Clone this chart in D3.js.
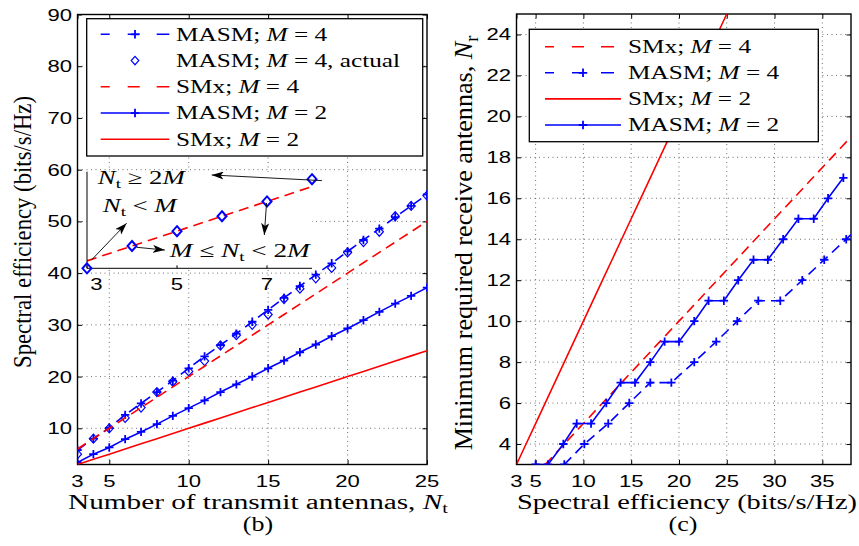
<!DOCTYPE html>
<html>
<head>
<meta charset="utf-8">
<script src="https://cdn.jsdelivr.net/npm/d3@7/dist/d3.min.js"></script>
<style>body{margin:0;background:#fff}</style>
</head>
<body>
<svg></svg>
<script>
const W = 859, H = 546;

// number of transmit antennas
const nt = [3,4,5,6,7,8,9,10,11,12,13,14,15,16,17,18,19,20,21,22,23,24,25];
// panel (b): spectral efficiency (bits/s/Hz) per Nt
const rateMasm4 = [5.8,8.0,10.1,12.6,14.8,17.0,19.2,21.6,23.9,26.1,28.3,30.6,32.9,35.2,37.5,39.7,41.9,44.2,46.4,48.6,50.8,53.0,55.2];
const rateMasm4Actual = [5,8,10,12,14,17,19,21,23,26,28,30,32,35,37,39,41,44,46,48,51,53,55];
const rateSmx4 = [6,8,10,12,14,16,18,20,22,24,26,28,30,32,34,36,38,40,42,44,46,48,50];
const rateMasm2 = [3.4,5.0,6.3,7.9,9.3,10.8,12.4,13.9,15.4,17.0,18.5,20.0,21.6,23.1,24.7,26.2,27.8,29.3,30.9,32.5,34.1,35.6,37.2];
const rateSmx2 = [3,4,5,6,7,8,9,10,11,12,13,14,15,16,17,18,19,20,21,22,23,24,25];
// panel (c): minimum receive antennas
const nrMasm4 = [3,4,5,6,7,7,8,9,10,11,11,12,13,14,15];          // Nt = 4..18
const nrMasm2 = [3,3,4,5,5,6,7,7,8,9,9,10,11,11,12,13,13,14,15,15,16,17]; // Nt = 4..25

const xTicksB = [3,5,10,15,20,25], yTicksB = [10,20,30,40,50,60,70,80,90];
const xTicksC = [3,5,10,15,20,25,30,35], yTicksC = [4,6,8,10,12,14,16,18,20,22,24];
const insetTicks = [3,5,7];

const serif = "'Liberation Serif','Times New Roman',serif";
const sans = "'Liberation Sans',Arial,sans-serif";
const blue = "#0000ff", red = "#ff0000";
const DASH = "10,6";

const svg = d3.select("svg").attr("width", W).attr("height", H);
const defs = svg.append("defs");
defs.append("marker").attr("id", "ah")
  .attr("viewBox", "0 0 12 8").attr("refX", 12).attr("refY", 4)
  .attr("markerWidth", 12).attr("markerHeight", 8)
  .attr("markerUnits", "userSpaceOnUse").attr("orient", "auto")
  .append("path").attr("d", "M0,0L12,4L0,8L3,4Z").attr("fill", "#000");

// text with optional italic / subscript parts, stretched horizontally
function stext(g, x, y, parts, o = {}) {
  const size = o.size || 19;
  const t = g.append("text")
    .attr("font-family", o.font || serif)
    .attr("font-size", size)
    .attr("text-anchor", o.anchor || "start");
  let shift = 0;
  parts.forEach(p => {
    const [s, k] = Array.isArray(p) ? p : [p, ""];
    const ts = t.append("tspan").text(s);
    const want = k === "sub" ? size * 0.22 : 0;
    if (want !== shift) { ts.attr("dy", want - shift); shift = want; }
    if (k === "i") ts.attr("font-style", "italic");
    if (k === "sub") ts.attr("font-size", size * 0.7);
  });
  let k = o.sx || 1;
  if (o.len) k = o.len / t.node().getComputedTextLength();
  if (o.rot) t.attr("transform", `translate(${x},${y}) scale(${o.perp || 1},1) rotate(-90) scale(${k},1)`);
  else t.attr("transform", `translate(${x},${y}) scale(${k},1)`);
  return t;
}

const plusPath = "M-4.2,0H4.2M0,-4.2V4.2";
const diamond = r => `M0,${-r}L${r * 0.9},0L0,${r}L${-r * 0.9},0Z`;

function frame(id, x, y, xt, yt) {
  const [x0, x1] = x.range(), [y0, y1] = y.range();
  const g = svg.append("g");
  defs.append("clipPath").attr("id", id).append("rect")
    .attr("x", x0).attr("y", y1).attr("width", x1 - x0).attr("height", y0 - y1);
  const grid = g.append("g").attr("stroke", "#333").attr("stroke-width", 0.7)
    .attr("stroke-dasharray", "1,3.5");
  grid.selectAll(".gx").data(xt.filter(v => x(v) > x0 + 1 && x(v) < x1 - 1)).join("line")
    .attr("x1", d => x(d)).attr("x2", d => x(d)).attr("y1", y0).attr("y2", y1);
  grid.selectAll(".gy").data(yt.filter(v => y(v) < y0 - 1 && y(v) > y1 + 1)).join("line")
    .attr("y1", d => y(d)).attr("y2", d => y(d)).attr("x1", x0).attr("x2", x1);
  const ax = [
    [d3.axisBottom(x).tickValues(xt), `translate(0,${y0})`],
    [d3.axisTop(x).tickValues(xt), `translate(0,${y1})`],
    [d3.axisLeft(y).tickValues(yt), `translate(${x0},0)`],
    [d3.axisRight(y).tickValues(yt), `translate(${x1},0)`]
  ];
  ax.forEach(([a, tr]) => {
    const s = g.append("g").attr("transform", tr)
      .call(a.tickSize(-4.5).tickSizeOuter(0).tickFormat(""));
    s.select(".domain").remove();
    s.selectAll("line").attr("stroke", "#000").attr("stroke-width", 1);
  });
  g.append("rect").attr("x", x0).attr("y", y1).attr("width", x1 - x0).attr("height", y0 - y1)
    .attr("fill", "none").attr("stroke", "#000").attr("stroke-width", 1.4);
  xt.forEach(v => stext(g, x(v), 487, [String(v)], { font: sans, size: 17, sx: 1.3, anchor: "middle" }));
  yt.forEach(v => stext(g, x0 - 5.5, y(v) + 6, [String(v)], { font: sans, size: 17, sx: 1.3, anchor: "end" }));
  return svg.append("g").attr("clip-path", `url(#${id})`);
}

// line: "solid" | "dash" | null ; marker: "+" | "d" | null
function series(g, x, y, xs, ys, color, line, marker) {
  const pts = xs.map((v, i) => [v, ys[i]]);
  if (line) {
    g.append("path").datum(pts)
      .attr("d", d3.line().x(d => x(d[0])).y(d => y(d[1])))
      .attr("fill", "none").attr("stroke", color).attr("stroke-width", 1.6)
      .attr("stroke-dasharray", line === "dash" ? DASH : null);
  }
  if (marker === "+") {
    g.selectAll(null).data(pts).join("path")
      .attr("transform", d => `translate(${x(d[0])},${y(d[1])})`)
      .attr("d", plusPath).attr("stroke", color).attr("stroke-width", 1.8);
  } else if (marker === "d") {
    g.selectAll(null).data(pts).join("path")
      .attr("transform", d => `translate(${x(d[0])},${y(d[1])})`)
      .attr("d", diamond(4.5)).attr("fill", "none").attr("stroke", color).attr("stroke-width", 1.2);
  }
}

function legend(x0, y0, w, h, rows, lx0, lx1, tx, ry0, step) {
  const g = svg.append("g");
  g.append("rect").attr("x", x0).attr("y", y0).attr("width", w).attr("height", h)
    .attr("fill", "#fff").attr("stroke", "#000").attr("stroke-width", 1.3);
  rows.forEach((r, i) => {
    const cy = ry0 + i * step, cx = (lx0 + lx1) / 2;
    if (r.line) {
      g.append("line").attr("x1", lx0).attr("x2", lx1).attr("y1", cy).attr("y2", cy)
        .attr("stroke", r.color).attr("stroke-width", 1.6)
        .attr("stroke-dasharray", r.line === "dash" ? "9,18,12,17,13" : null);
    }
    if (r.marker === "+") g.append("path").attr("transform", `translate(${cx},${cy})`)
      .attr("d", plusPath).attr("stroke", r.color).attr("stroke-width", 1.8);
    if (r.marker === "d") g.append("path").attr("transform", `translate(${cx},${cy})`)
      .attr("d", diamond(4.2)).attr("fill", "none").attr("stroke", r.color).attr("stroke-width", 1.2);
    stext(g, tx, cy + 6.3, r.label, { size: 19, sx: 1.33 });
  });
}

// ---------- panel (b) ----------
const xB = d3.scaleLinear().domain([3, 25]).range([77.5, 427]);
const yB = d3.scaleLinear().domain([3, 90]).range([464.5, 14.5]);
const gB = frame("clipB", xB, yB, xTicksB, yTicksB);
series(gB, xB, yB, nt, rateMasm4, blue, "dash", "+");
series(gB, xB, yB, nt, rateMasm4Actual, blue, null, "d");
series(gB, xB, yB, nt, rateSmx4, red, "dash", null);
series(gB, xB, yB, nt, rateMasm2, blue, "solid", "+");
series(gB, xB, yB, nt, rateSmx2, red, "solid", null);

// inset
const ntIn = nt.slice(0, 6);
const xI = d3.scaleLinear().domain([3, 8]).range([87, 312]);
const yI = d3.scaleLinear().domain([5, 18]).range([268.3, 171.7]);
const gI = svg.append("g");
gI.append("rect").attr("x", xI(3)).attr("y", yI(18)).attr("width", xI(8) - xI(3))
  .attr("height", yI(5) - yI(18)).attr("fill", "#fff");
gI.append("path").datum(ntIn.map((v, i) => [v, rateSmx4[i]]))
  .attr("d", d3.line().x(d => xI(d[0])).y(d => yI(d[1])))
  .attr("fill", "none").attr("stroke", red).attr("stroke-width", 1.6).attr("stroke-dasharray", DASH);
gI.append("path").attr("d", `M${xI(3)},${yI(18)}V${yI(5)}H${xI(8)}`)
  .attr("fill", "none").attr("stroke", "#000").attr("stroke-width", 1);
insetTicks.forEach((v, i) => {
  gI.append("line").attr("x1", xI(v)).attr("x2", xI(v)).attr("y1", yI(5)).attr("y2", yI(5) - 3).attr("stroke", "#000");
  stext(gI, xI(v) + (i === 0 ? 9.5 : 0), 290, [String(v)], { font: sans, size: 17, sx: 1.3, anchor: "middle" });
});
gI.selectAll(null).data(ntIn.map((v, i) => [v, rateMasm4Actual[i]])).join("path")
  .attr("transform", d => `translate(${xI(d[0])},${yI(d[1])})`)
  .attr("d", diamond(5)).attr("fill", "none").attr("stroke", blue).attr("stroke-width", 2);
const arrows = [[8.22, 16.8, 5.77, 17.56], [3.1, 6.12, 3.88, 11.06], [4.1, 7.83, 4.73, 7.46], [6.99, 13.79, 6.94, 9.48]];
arrows.forEach(a => gI.append("line")
  .attr("x1", xI(a[0])).attr("y1", yI(a[1])).attr("x2", xI(a[2])).attr("y2", yI(a[3]))
  .attr("stroke", "#000").attr("stroke-width", 0.9).attr("marker-end", "url(#ah)"));
stext(gI, xI(3.24), yI(16.35), [["N", "i"], ["t", "sub"], " \u2265 2", ["M", "i"]], { size: 19, len: 87 });
stext(gI, xI(3.35), yI(12.62), [["N", "i"], ["t", "sub"], " < ", ["M", "i"]], { size: 19, len: 74 });
stext(gI, xI(4.84), yI(6.56), [["M", "i"], " \u2264 ", ["N", "i"], ["t", "sub"], " < 2", ["M", "i"]], { size: 19, len: 140 });

legend(86.7, 18.7, 336, 137.3, [
  { line: "dash", color: blue, marker: "+", label: ["MASM; ", ["M", "i"], " = 4"] },
  { line: null, color: blue, marker: "d", label: ["MASM; ", ["M", "i"], " = 4, actual"] },
  { line: "dash", color: red, label: ["SMx; ", ["M", "i"], " = 4"] },
  { line: "solid", color: blue, marker: "+", label: ["MASM; ", ["M", "i"], " = 2"] },
  { line: "solid", color: red, label: ["SMx; ", ["M", "i"], " = 2"] }
], 100.7, 169.3, 176, 34.3, 26.25);

stext(svg, 258, 509, ["Number of transmit antennas, ", ["N", "i"], ["t", "sub"]], { size: 20, len: 380, anchor: "middle" });
stext(svg, 258, 531, ["(b)"], { size: 20, sx: 1.3, anchor: "middle" });
stext(svg, 31, 232, ["Spectral efficiency (bits/s/Hz)"], { size: 20, len: 272, rot: true, perp: 1.3, anchor: "middle" });

// ---------- panel (c) ----------
const xC = d3.scaleLinear().domain([3, 38]).range([516.5, 851]);
const yC = d3.scaleLinear().domain([3, 25]).range([464.5, 14]);
const gC = frame("clipC", xC, yC, xTicksC, yTicksC);
series(gC, xC, yC, rateSmx4, nt, red, "dash", null);
series(gC, xC, yC, rateMasm4.slice(1, 16), nrMasm4, blue, "dash", "+");
series(gC, xC, yC, rateSmx2, nt, red, "solid", null);
series(gC, xC, yC, rateMasm2.slice(1), nrMasm2, blue, "solid", "+");

legend(529.3, 29.3, 289, 112.4, [
  { line: "dash", color: red, label: ["SMx; ", ["M", "i"], " = 4"] },
  { line: "dash", color: blue, marker: "+", label: ["MASM; ", ["M", "i"], " = 4"] },
  { line: "solid", color: red, label: ["SMx; ", ["M", "i"], " = 2"] },
  { line: "solid", color: blue, marker: "+", label: ["MASM; ", ["M", "i"], " = 2"] }
], 545, 621, 628, 46.7, 26.1);

stext(svg, 687, 509, ["Spectral efficiency (bits/s/Hz)"], { size: 20, len: 340, anchor: "middle" });
stext(svg, 683, 531, ["(c)"], { size: 20, sx: 1.3, anchor: "middle" });
stext(svg, 472, 243, ["Minimum required receive antennas, ", ["N", "i"], ["r", "sub"]], { size: 20, len: 415, rot: true, perp: 1.3, anchor: "middle" });
</script>
</body>
</html>
